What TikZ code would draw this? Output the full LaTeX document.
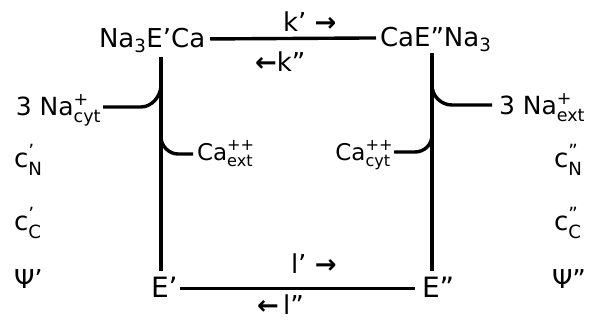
\documentclass[tikz,border=0pt]{standalone}
\usepackage{fontspec}
\usepackage{amsmath}
\setmainfont{DejaVu Sans}
\usetikzlibrary{calc}
\newcommand{\fsz}[1]{\fontsize{#1}{#1}\selectfont}
\begin{document}
\begin{tikzpicture}[x=1pt,y=-1pt,
  lbl/.style={inner sep=0pt, outer sep=0pt},
  big/.style={lbl,font=\fsz{26}},
  med/.style={lbl,font=\fsz{25}},
  calbl/.style={lbl,font=\fsz{23}},
  side/.style={lbl,font=\fsz{26}},
  elbl/.style={lbl,font=\fsz{28}},
  bond/.style={line width=3.4pt},
]
\useasboundingbox (0,0) rectangle (592,321);

% top states
\node[big,anchor=base west] (TL) at (99,48) {Na$_{\text{3}}$E’Ca};
\node[big,anchor=base west] (TR) at (380,47) {CaE”Na$_{\text{3}}$};
\draw[bond] ([xshift=5pt,yshift=2pt]TL.east) -- ([xshift=-4pt,yshift=2pt]TR.west);
\node[big,anchor=base west] (k1) at (283,32) {k’ {\bfseries →}};
\node[big,anchor=base west] (k2) at (255,72) {{\bfseries ←}k”};

% bottom states
\node[elbl,anchor=base west] (E1) at (151,297) {E’};
\node[elbl,anchor=base west] (E2) at (422,297) {E”};
\draw[bond] ([xshift=2pt,yshift=-2pt]E1.east) -- ([xshift=-7pt,yshift=-2pt]E2.west);
\node[big,anchor=base west] (l1) at (291,273) {l’ {\bfseries →}};
\node[big,anchor=base west] (l2) at (257,314) {{\bfseries ←}\,l”};

% vertical transitions
\coordinate (La) at (161,57);
\coordinate (Lb) at (161,271);
\coordinate (Ra) at (432,53);
\coordinate (Rb) at (432,271);
\draw[bond] (La) -- (Lb);
\draw[bond] (Ra) -- (Rb);

% left branches
\node[med,anchor=base east] (Nc) at (101,115) {3 Na$^{\text{+}}_{\text{cyt}}$};
\coordinate (n1) at (103,107);
\coordinate (n1v) at (161,85);
\draw[bond] (n1) -- (141,107) .. controls (152,107) and (161,96) .. (n1v);
\node[calbl,anchor=base west] (Ce) at (197,160) {Ca$^{\text{++}}_{\text{ext}}$};
\coordinate (c1v) at (161,137);
\coordinate (c1) at (193,154);
\draw[bond] (c1v) .. controls (161,146) and (169,154) .. (178,154) -- (c1);

% right branches
\node[med,anchor=base west] (Ne) at (499,114) {3 Na$^{\text{+}}_{\text{ext}}$};
\coordinate (n2v) at (432,85);
\coordinate (n2) at (492,105);
\draw[bond] (n2v) .. controls (432,96) and (441,105) .. (452,105) -- (n2);
\node[calbl,anchor=base east] (Cc) at (393,160) {Ca$^{\text{++}}_{\text{cyt}}$};
\coordinate (c2) at (394,152);
\coordinate (c2v) at (432,135);
\draw[bond] (c2) -- (415,152) .. controls (424,152) and (432,145) .. (c2v);

% side conditions
\node[side,anchor=base west] (cN1) at (14,167) {$\text{c}^{\text{’}}_{\text{N}}$};
\node[side,anchor=base west] (cC1) at (14,230) {$\text{c}^{\text{’}}_{\text{C}}$};
\node[side,anchor=base west] (P1) at (14,288) {Ψ’};
\node[side,anchor=base west] (cN2) at (554,167) {$\text{c}^{\text{”}}_{\text{N}}$};
\node[side,anchor=base west] (cC2) at (554,230) {$\text{c}^{\text{”}}_{\text{C}}$};
\node[side,anchor=base west] (P2) at (552,288) {Ψ”};
\end{tikzpicture}
\end{document}
